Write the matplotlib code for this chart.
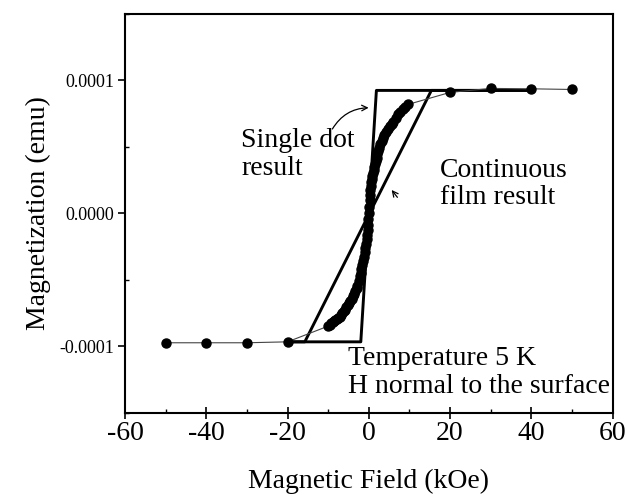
import numpy as np
import matplotlib
matplotlib.use("Agg")
import matplotlib.pyplot as plt
from matplotlib.ticker import MultipleLocator, FixedLocator

plt.rcParams['font.family'] = ['Liberation Serif', 'DejaVu Serif']
plt.rcParams['axes.unicode_minus'] = False

# measured data (field in kOe, magnetization in 1e-4 emu)
campo = [-50, -40, -30, -20,
         -10.0, -9.6, -9.2, -8.8, -8.5, -8.2, -7.9, -7.5, -7.2, -6.8,
         -6.5, -6.2, -5.9, -5.5, -5.2, -4.9, -4.6, -4.2, -3.9, -3.6,
         -3.3, -3.0, -2.8, -2.5, -2.2, -2.0, -1.8, -1.6, -1.4, -1.2,
         -1.0, -0.85, -0.7, -0.55, -0.4, -0.3, -0.2, -0.1, 0.0, 0.1,
         0.2, 0.3, 0.4, 0.5, 0.6, 0.75, 0.9, 1.05, 1.2, 1.35,
         1.5, 1.7, 1.9, 2.1, 2.3, 2.55, 2.8, 3.15, 3.5, 3.85,
         4.2, 4.7, 5.2, 5.6, 6.0, 6.6, 7.2, 7.8, 8.4, 9.0,
         9.7,
         20, 30, 40, 50]
magn = [-0.972, -0.972, -0.972, -0.965,
        -0.847, -0.836, -0.825, -0.817, -0.81, -0.804, -0.797, -0.786, -0.775, -0.762,
        -0.748, -0.735, -0.722, -0.705, -0.69, -0.675, -0.66, -0.64, -0.622, -0.604,
        -0.585, -0.56, -0.545, -0.51, -0.47, -0.445, -0.42, -0.39, -0.36, -0.325,
        -0.29, -0.26, -0.23, -0.195, -0.16, -0.125, -0.09, -0.045, 0.0, 0.05,
        0.1, 0.14, 0.18, 0.21, 0.235, 0.26, 0.28, 0.305, 0.33, 0.35,
        0.37, 0.395, 0.42, 0.445, 0.468, 0.495, 0.52, 0.545, 0.571, 0.593,
        0.615, 0.636, 0.656, 0.673, 0.69, 0.717, 0.744, 0.765, 0.785, 0.80,
        0.82,
        0.91, 0.94, 0.937, 0.932]
magn = [m * 1e-4 for m in magn]

# model loops
campo_dot = [-20, -1.97, 1.87, 40]
magn_dot = [-0.965e-4, -0.965e-4, 0.925e-4, 0.925e-4]
campo_filme = [-20, -15.75, 15.4, 40]
magn_filme = [-0.965e-4, -0.965e-4, 0.925e-4, 0.925e-4]

fig = plt.figure(figsize=(6.27, 4.97), dpi=100)
ax = fig.add_axes([0.1994, 0.169, 0.7776, 0.803])

ax.plot(campo_dot, magn_dot, color='black', linewidth=2.1)
ax.plot(campo_filme, magn_filme, color='black', linewidth=2.1)
ax.plot(campo, magn, color='#444444', linewidth=0.8, marker='o',
        markersize=6.5, markerfacecolor='black', markeredgecolor='black')

ax.set_xlim(-60, 60)
ax.set_ylim(-0.00015, 0.00015)
ax.xaxis.set_major_locator(MultipleLocator(20))
ax.xaxis.set_minor_locator(MultipleLocator(10))
ax.yaxis.set_major_locator(FixedLocator([-0.0001, 0.0, 0.0001]))
ax.yaxis.set_minor_locator(FixedLocator([-0.00015, -0.00005, 0.00005, 0.00015]))
ax.set_yticklabels(['-0.0001', '0.0000', '0.0001'])
ax.tick_params(axis='x', which='major', direction='inout', length=8, width=1.2, labelsize=20, pad=2)
ax.tick_params(axis='y', which='major', direction='out', length=5, width=1.2, labelsize=13, pad=3)
ax.tick_params(which='minor', direction='in', length=3, width=1)
for s in ax.spines.values():
    s.set_linewidth(1.5)

ax.set_xlabel('Magnetic Field (kOe)', fontsize=20, labelpad=16)
ax.set_ylabel('Magnetization (emu)', fontsize=20, labelpad=6)

ax.text(-31.4, 0.64e-4, 'Single dot\nresult', fontsize=20, va='top', ha='left', linespacing=1.15)
ax.text(17.5, 0.42e-4, 'Continuous\nfilm result', fontsize=20, va='top', ha='left', linespacing=1.15)
ax.text(-5.1, -0.995e-4, 'Temperature 5 K\nH normal to the surface', fontsize=20,
        va='top', ha='left', linespacing=1.15)

ax.annotate('', xy=(0.64, 0.795e-4), xytext=(-9.3, 0.617e-4),
            arrowprops=dict(arrowstyle='->', color='black', lw=0.9,
                            connectionstyle='arc3,rad=-0.3'))
ax.annotate('', xy=(5.2, 0.193e-4), xytext=(7.46, 0.105e-4),
            arrowprops=dict(arrowstyle='->', color='black', lw=0.9))

fig.savefig('out.png', dpi=100)
